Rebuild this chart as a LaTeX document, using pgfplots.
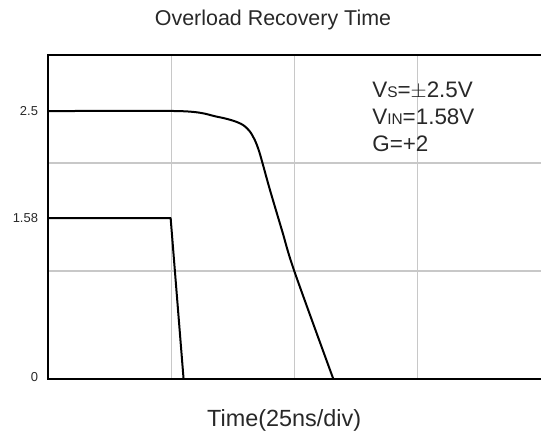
\documentclass[border=0pt]{standalone}
\usepackage{pgfplots}
\pgfplotsset{compat=1.18}
\usepackage{fontspec}
\setmainfont{Liberation Sans}
\definecolor{gridgray}{RGB}{200,200,200}
\definecolor{txt}{RGB}{40,40,40}
\begin{document}
\begin{tikzpicture}
\useasboundingbox (0,0) rectangle (541bp,435bp);
\begin{axis}[
  at={(48bp,56bp)}, anchor=south west,
  scale only axis, width=493bp, height=324bp,
  xmin=0, xmax=4, ymin=0, ymax=3,
  axis line style={draw=none},
  xtick={1,2,3}, xticklabels={},
  ytick={1,2}, yticklabels={},
  major tick length=0pt,
  grid=major,
  major grid style={gridgray, line width=1.2bp},
  extra y ticks={0.02,1.49,2.48},
  extra y tick labels={0,1.58,2.5},
  extra y tick style={grid=none, major tick length=0pt},
  yticklabel style={font=\fontsize{13}{13}\selectfont, text=txt, xshift=-6.5bp},
  /pgf/number format/assume math mode=true,
  clip=false,
]
\addplot[black, line width=2bp, line join=round] coordinates {
  (0,1.49) (0.995,1.49) (1.10,0)
};
\addplot[black, line width=2bp, line join=round, smooth, tension=0.5] coordinates {
  (0,2.48) (1.08,2.48) (1.369,2.429) (1.501,2.392) (1.582,2.352) (1.639,2.290)
  (1.683,2.20) (1.715,2.10) (1.745,1.98) (1.801,1.75) (1.900,1.37) (1.998,1.0) (2.315,0)
};
\draw[black, line width=2.8bp, line join=miter] (rel axis cs:1,0) -- (rel axis cs:0,0) -- (rel axis cs:0,1) -- (rel axis cs:1,1);
\node[anchor=base west, inner sep=0pt, text=txt, font=\fontsize{22.5}{22.5}\selectfont] at (axis cs:2.63,2.611) {V{\fontsize{15.5}{15.5}\selectfont S}=$\pm$2.5V};
\node[anchor=base west, inner sep=0pt, text=txt, font=\fontsize{22.5}{22.5}\selectfont] at (axis cs:2.63,2.352) {V{\fontsize{15.5}{15.5}\selectfont IN}=1.58V};
\node[anchor=base west, inner sep=0pt, text=txt, font=\fontsize{22.5}{22.5}\selectfont] at (axis cs:2.63,2.102) {G=+2};
\end{axis}
\node[anchor=base, text=txt, font=\fontsize{21.5}{21.5}\selectfont, inner sep=0pt] at (273bp,409bp) {Overload Recovery Time};
\node[anchor=base west, text=txt, font=\fontsize{23.5}{23.5}\selectfont, inner sep=0pt] at (207bp,8.5bp) {Time(25ns/div)};
\end{tikzpicture}
\end{document}
